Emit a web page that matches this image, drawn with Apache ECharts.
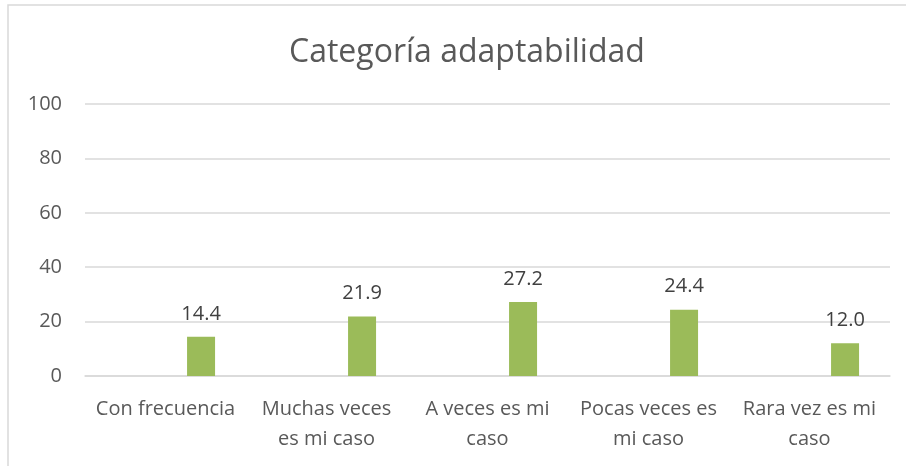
<!DOCTYPE html>
<html><head><meta charset="utf-8">
<script src="https://cdn.jsdelivr.net/npm/echarts@6/dist/echarts.min.js"></script>
<style>html,body{margin:0;padding:0;background:#fff}#c{width:906px;height:466px}</style>
</head><body><div id="c"></div>
<script>
const categories = ["Con frecuencia", "Muchas veces es mi caso", "A veces es mi caso", "Pocas veces es mi caso", "Rara vez es mi caso"];
const categoryLines = [["Con frecuencia"], ["Muchas veces", "es mi caso"], ["A veces es mi", "caso"], ["Pocas veces es", "mi caso"], ["Rara vez es mi", "caso"]];
const values = [14.4, 21.9, 27.2, 24.4, 12.0];
const emptySeries = [null, null, null, null, null];
const yTicks = { min: 0, max: 100, interval: 20 };

const font = "'Open Sans', 'Noto Sans', sans-serif";
const chart = echarts.init(document.getElementById('c'), null, { renderer: 'canvas' });
chart.setOption({
  animation: false,
  title: {
    text: 'Categoría adaptabilidad', left: 284, top: 32,
    textStyle: { fontFamily: font, fontSize: 32, fontWeight: 'normal', color: '#595959' }
  },
  graphic: [{
    type: 'rect', shape: { x: 8, y: 5, width: 1000, height: 1000 },
    style: { fill: 'none', stroke: '#d9d9d9', lineWidth: 1.5 }, silent: true
  }],
  grid: { left: 85, right: 16, top: 104, bottom: 90, containLabel: false },
  xAxis: {
    type: 'category', data: categories,
    axisLine: { show: true, lineStyle: { color: '#d9d9d9', width: 1.5 } },
    axisTick: { show: false },
    axisLabel: {
      interval: 0, margin: 18, color: '#595959', fontFamily: font, fontSize: 20,
      lineHeight: 30,
      formatter: (v, i) => categoryLines[i].join('\n')
    }
  },
  yAxis: {
    type: 'value', min: yTicks.min, max: yTicks.max, interval: yTicks.interval,
    axisLine: { show: false }, axisTick: { show: false },
    splitLine: { lineStyle: { color: '#d9d9d9', width: 1.5 } },
    axisLabel: { margin: 23, color: '#595959', fontFamily: font, fontSize: 20 }
  },
  series: [
    { type: 'bar', data: emptySeries, barWidth: 28, barGap: '154%' },
    {
      type: 'bar', data: values, barWidth: 28,
      itemStyle: { color: '#9bbb59' },
      label: {
        show: true, position: 'top', distance: 13, color: '#404040',
        fontFamily: font, fontSize: 20,
        formatter: p => p.value.toFixed(1)
      }
    }
  ]
});
</script></body></html>
